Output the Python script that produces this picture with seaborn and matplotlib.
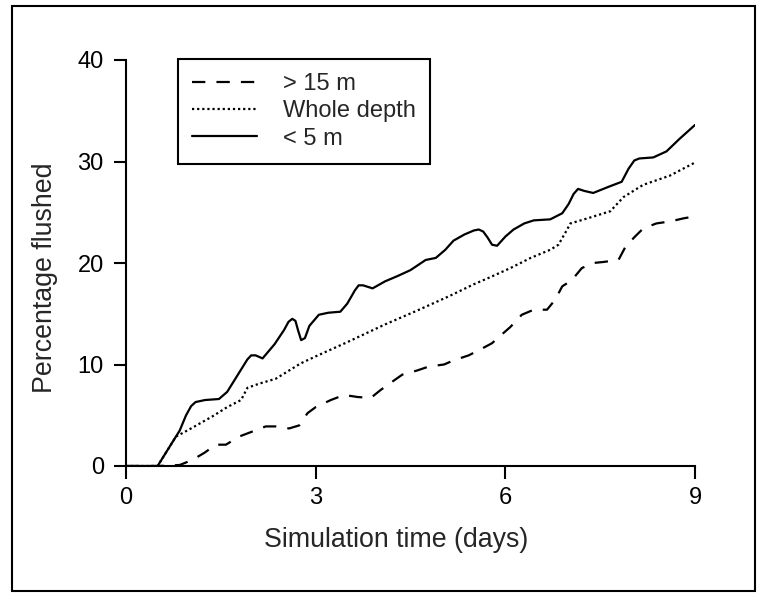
import matplotlib
matplotlib.use("Agg")
import matplotlib.pyplot as plt
import numpy as np
import pandas as pd
import seaborn as sns
from matplotlib.patches import Rectangle

# ---- data ----
deep_t = [0, 0.5, 0.85, 1.05, 1.24, 1.42, 1.58, 1.79, 2.0, 2.21, 2.37, 2.58, 2.74, 2.87, 3.0,
          3.24, 3.45, 3.66, 3.87, 4.03, 4.21, 4.37, 4.6, 4.79, 5.03, 5.18, 5.42, 5.58, 5.79,
          5.97, 6.08, 6.26, 6.45, 6.66, 6.79, 6.9, 7.05, 7.21, 7.39, 7.55, 7.79, 7.9, 8.05,
          8.18, 8.39, 8.61, 8.82, 9.0]
deep_p = [0, 0, 0.1, 0.6, 1.3, 2.1, 2.1, 2.9, 3.4, 3.9, 3.9, 3.7, 4.0, 5.2, 5.8,
          6.5, 7.0, 6.8, 6.7, 7.5, 8.3, 9.0, 9.4, 9.8, 10.0, 10.4, 10.9, 11.4, 12.1,
          13.1, 13.7, 14.9, 15.4, 15.4, 16.4, 17.7, 18.3, 19.5, 20.0, 20.1, 20.3, 21.6, 22.6,
          23.4, 23.9, 24.1, 24.4, 24.6]

whole_t = [0, 0.5, 0.79, 1.0, 1.37, 1.6, 1.82, 1.92, 2.1, 2.37, 2.76, 3.0, 3.5, 4.08, 4.6,
           5.1, 5.5, 5.76, 6.08, 6.4, 6.71, 6.84, 6.95, 7.03, 7.3, 7.66, 7.87, 8.18, 8.6, 9.0]
whole_p = [0, 0, 2.9, 3.6, 4.9, 5.8, 6.5, 7.7, 8.1, 8.6, 10.1, 10.8, 12.2, 13.9, 15.3,
           16.7, 17.9, 18.6, 19.5, 20.5, 21.3, 21.8, 23.0, 23.9, 24.4, 25.1, 26.5, 27.7, 28.6, 29.9]

surf_t = [0, 0.5, 0.7, 0.85, 0.95, 1.03, 1.1, 1.25, 1.47, 1.6, 1.8, 1.92, 1.98, 2.05, 2.16,
          2.35, 2.5, 2.57, 2.63, 2.68, 2.72, 2.77, 2.83, 2.9, 3.05, 3.2, 3.39, 3.5, 3.62,
          3.68, 3.75, 3.9, 4.1, 4.29, 4.5, 4.74, 4.9, 5.05, 5.18, 5.35, 5.5, 5.58, 5.65,
          5.72, 5.79, 5.87, 6.0, 6.13, 6.3, 6.45, 6.71, 6.9, 7.0, 7.08, 7.15, 7.25, 7.39,
          7.63, 7.84, 7.95, 8.04, 8.12, 8.34, 8.55, 8.75, 9.0]
surf_p = [0, 0, 2.0, 3.5, 5.0, 5.9, 6.3, 6.5, 6.6, 7.3, 9.3, 10.5, 10.9, 10.9, 10.6,
          12.0, 13.4, 14.2, 14.5, 14.3, 13.4, 12.4, 12.6, 13.8, 14.9, 15.1, 15.2, 16.0, 17.3,
          17.8, 17.8, 17.5, 18.2, 18.7, 19.3, 20.3, 20.5, 21.3, 22.2, 22.8, 23.2, 23.3, 23.1,
          22.5, 21.8, 21.7, 22.6, 23.3, 23.9, 24.2, 24.3, 24.9, 25.8, 26.8, 27.3, 27.1, 26.9,
          27.5, 28.0, 29.3, 30.1, 30.3, 30.4, 31.0, 32.2, 33.6]

labels = ["> 15 m", "Whole depth", "< 5 m"]
x_ticks = [0, 3, 6, 9]
y_ticks = [0, 10, 20, 30, 40]

df = pd.concat([
    pd.DataFrame({"t": deep_t, "p": deep_p, "layer": labels[0]}),
    pd.DataFrame({"t": whole_t, "p": whole_p, "layer": labels[1]}),
    pd.DataFrame({"t": surf_t, "p": surf_p, "layer": labels[2]}),
], ignore_index=True)

sns.set_style("ticks")
plt.rcParams["font.family"] = ["Liberation Sans", "DejaVu Sans"]
plt.rcParams["axes.linewidth"] = 1.5

fig = plt.figure(figsize=(7.58, 5.94), dpi=100)
W, H = 758, 594
ax = fig.add_axes([126 / W, 1 - 466 / H, (695 - 126) / W, (466 - 60) / H])

sns.lineplot(data=df, x="t", y="p", style="layer", style_order=labels,
             dashes={labels[0]: (6, 5), labels[1]: (1, 1.3), labels[2]: ""},
             color="black", linewidth=1.6, estimator=None, sort=False, ax=ax,
             solid_joinstyle="round", dash_joinstyle="round")

ax.set_xlim(0, 9)
ax.set_ylim(0, 40)
ax.set_xticks(x_ticks)
ax.set_yticks(y_ticks)
ax.tick_params(axis="both", direction="out", length=9, width=1.5, labelsize=17,
               colors="black")
ax.tick_params(axis="y", pad=7)
ax.tick_params(axis="x", pad=6)
sns.despine(ax=ax)
for s in ["left", "bottom"]:
    ax.spines[s].set_color("black")

ax.set_xlabel("Simulation time (days)", fontsize=19.3)
ax.xaxis.set_label_coords((396 - 126) / (695 - 126), -(527 - 466) / 406)
ax.set_ylabel("Percentage flushed", fontsize=19.3)
ax.yaxis.set_label_coords((58 - 126) / (695 - 126), (466 - 278) / 406)

handles, labs = ax.get_legend_handles_labels()
leg = ax.legend(handles, labs, loc="upper left",
                bbox_to_anchor=(178 / W, 1 - 59 / H), bbox_transform=fig.transFigure,
                borderaxespad=0, fontsize=17, handlelength=2.75, handletextpad=1.1,
                labelspacing=0.22, borderpad=0.6, fancybox=False, framealpha=1,
                edgecolor="black", title=None)
leg.get_frame().set_linewidth(1.5)

fig.patches.append(Rectangle((12 / W, 1 - 591 / H), (755 - 12) / W, (591 - 6) / H,
                             transform=fig.transFigure, fill=False, lw=1.5,
                             edgecolor="black"))

fig.savefig("out.png", dpi=100, facecolor="white")
